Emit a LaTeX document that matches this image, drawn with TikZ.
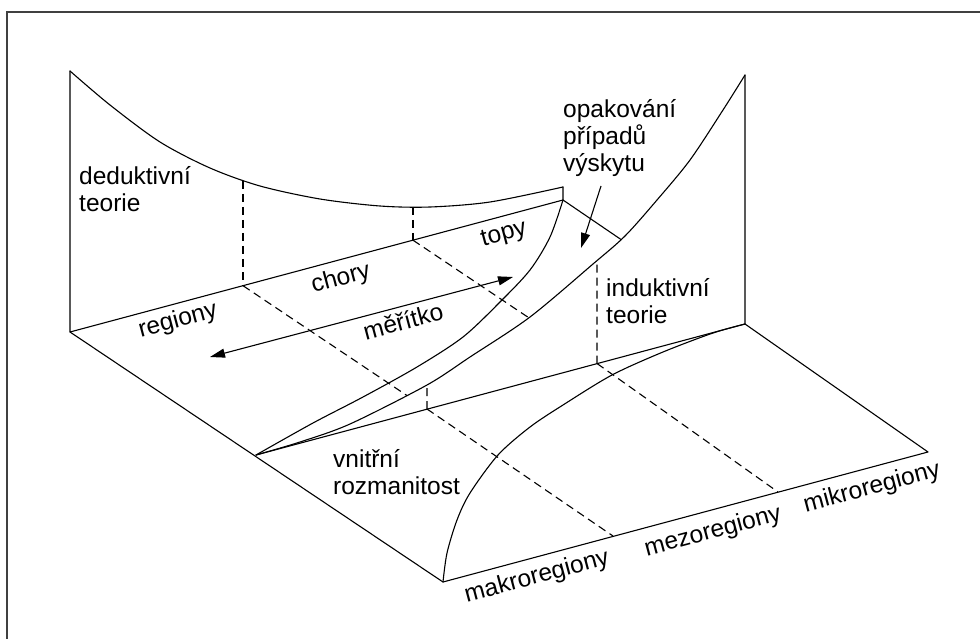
\documentclass[tikz,border=0pt]{standalone}
\usepackage{fontspec}
\setmainfont{Liberation Sans}
\usetikzlibrary{arrows.meta,intersections}
\begin{document}
\begin{tikzpicture}[x=1pt,y=-1pt,
  edge/.style={line width=1.1pt, line join=round, line cap=round},
  hid/.style={line width=1.1pt, dash pattern=on 8pt off 5pt},
  lbl/.style={inner sep=0pt, font=\fontsize{24.5}{27}\selectfont},
  rlbl/.style={lbl, rotate=15, anchor=center},
  tip/.style={-{Triangle[length=15pt,width=9pt]}},
  bitip/.style={{Triangle[length=15pt,width=9pt]}-{Triangle[length=15pt,width=9pt]}},
]
\useasboundingbox (0,0) rectangle (980,639);
% frame
\coordinate (fbl) at (7,660);
\coordinate (ftl) at (7,12);
\coordinate (ftr) at (1000,12);
\draw[line width=2pt, draw=black!75] (fbl) -- (ftl) -- (ftr);

% key points
\coordinate (A) at (70,332);
\coordinate (At) at (70,71);
\coordinate (B) at (563,200);
\coordinate (Bt) at (563,187);
\coordinate (C) at (745,324);
\coordinate (Ct) at (745,75);
\coordinate (D) at (256,455);
\coordinate (E) at (443,582);
\coordinate (F) at (928,452);

% floor edges and walls
\draw[edge] (At) -- (A) -- (B) -- (Bt);
\draw[edge] (A) -- (E) -- (F) -- (C) -- (Ct);
\draw[edge] (D) -- (C);

% deductive curve (back wall)
\draw[edge] plot[smooth] coordinates {(70,71) (110,105) (160,142) (210,168) (260,186) (320,199) (380,206) (430,207) (490,202) (563,187)};

% inner curve
\draw[edge] plot[smooth] coordinates {(563,200) (550,237) (530,270) (500,302) (463,337) (417,367) (363,397) (313,423) (256,455)};

% outer curve (inductive)
\draw[edge, name path=outer] plot[smooth] coordinates {(745,75) (723,110) (690,160) (657,200) (625,236) (593,264) (530,317) (470,357) (427,385) (350,424) (300,442) (256,455)};

% floor curve
\draw[edge] plot[smooth] coordinates {(443,582) (447,553) (457,520) (470,493) (498,455) (530,427) (563,405) (612,375) (663,352) (713,333) (745,324)};

% line from B towards C, up to the outer curve
\path[name path=bc] (B) -- (C);
\path[name intersections={of=outer and bc, by={Xbc}}];
\draw[edge] (B) -- (Xbc);

% back wall dashed verticals
\coordinate (P1) at (243,285.7);
\coordinate (P1t) at (243,181);
\coordinate (P2) at (413,240.2);
\coordinate (P2t) at (413,207);
\draw[hid] (P1t) -- (P1);
\draw[hid] (P2t) -- (P2);

% right wall points on D--C
\coordinate (Q1) at (427,409);
\coordinate (Q2) at (597,363.5);
\coordinate (R1) at (613,536);
\coordinate (R2) at (778,492);

% floor dashed lines
\path[name path=d1] (P1) -- (Q1);
\path[name intersections={of=outer and d1, by={X1}}];
\draw[hid] (P1) -- (X1);
\draw[hid] (Q1) -- (R1);
\path[name path=d2] (P2) -- (Q2);
\path[name intersections={of=outer and d2, by={X2}}];
\draw[hid] (P2) -- (X2);
\draw[hid] (Q2) -- (R2);

% right wall dashed verticals
\coordinate (Q1u) at (427,300);
\coordinate (Q2u) at (597,150);
\path[name path=v1] (Q1) -- (Q1u);
\path[name intersections={of=outer and v1, by={Y1}}];
\draw[hid] (Q1) -- (Y1);
\path[name path=v2] (Q2) -- (Q2u);
\path[name intersections={of=outer and v2, by={Y2}}];
\draw[hid] (Q2) -- (Y2);

% arrows
\coordinate (M1) at (210,357);
\coordinate (M2) at (513,277);
\draw[line width=1.1pt, bitip] (M1) -- (M2);
\coordinate (O1) at (601,186);
\coordinate (O2) at (581,248);
\draw[line width=1.1pt, tip] (O1) -- (O2);

% labels
\node[lbl, anchor=base west] (ded1) at (79,185) {deduktivní};
\node[lbl, anchor=base west] (ded2) at (79,212) {teorie};
\node[lbl, anchor=base west] (op1) at (563,118) {opakování};
\node[lbl, anchor=base west] (op2) at (563,145) {případů};
\node[lbl, anchor=base west] (op3) at (563,172) {výskytu};
\node[lbl, anchor=base west] (ind1) at (606,296) {induktivní};
\node[lbl, anchor=base west] (ind2) at (606,323) {teorie};
\node[lbl, anchor=base west] (vn1) at (333,467) {vnitřní};
\node[lbl, anchor=base west] (vn2) at (333,494) {rozmanitost};

\node[rlbl] (reg) at (178,321) {regiony};
\node[rlbl] (cho) at (341,279) {chory};
\node[rlbl] (top) at (504,235) {topy};
\node[rlbl] (mer) at (403,321) {měřítko};
\node[rlbl] (mak) at (537,577) {makroregiony};
\node[rlbl] (mez) at (713,532) {mezoregiony};
\node[rlbl] (mik) at (872,488) {mikroregiony};
\end{tikzpicture}
\end{document}
